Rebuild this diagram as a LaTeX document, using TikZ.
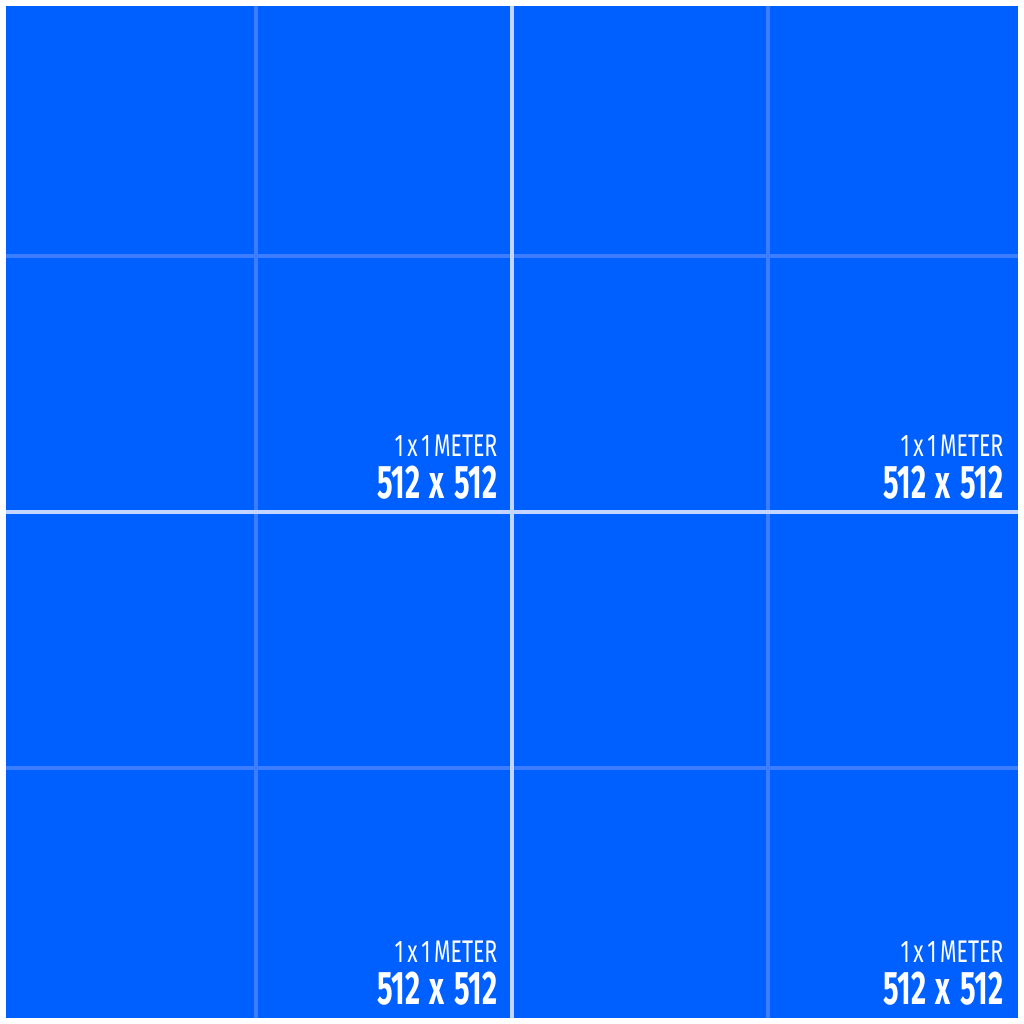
\documentclass[tikz,border=0pt]{standalone}
\usepackage{fontspec}
\setmainfont{Fira Sans}
\usetikzlibrary{positioning}
\definecolor{tileblue}{HTML}{005FFF}
\definecolor{majorline}{HTML}{C4D6FF}
\definecolor{minorline}{HTML}{3C7EFF}

\begin{document}
\begin{tikzpicture}[x=0.01cm, y=-0.01cm,
    minor/.style={draw=minorline, line width=0.9pt},
    major/.style={draw=majorline, line width=0.9pt},
    pixlabel/.style={text=white, inner sep=0pt, font=\fontsize{13.4}{14}\selectfont\bfseries},
    meterlabel/.style={text=white, inner sep=0pt, font=\fontsize{8.9}{9}\selectfont\mdseries}]
      \useasboundingbox (0,0) rectangle (1024,1024);
      \fill[white] (0,0) rectangle (1024,1024);
      \fill[tileblue] (6,6) rectangle (1018,1018);

      % grid
      \foreach \p in {256,768} {
        \draw[minor] (\p,6) -- (\p,1018);
        \draw[minor] (6,\p) -- (1018,\p);
      }
      \draw[major] (512,6) -- (512,1018);
      \draw[major] (6,512) -- (1018,512);

      % tile labels
      \foreach \i in {0,1} {
        \foreach \j in {0,1} {
          \node[pixlabel, anchor=base east] (px\i\j) at (498+506*\i, 498+506*\j)
            {\scalebox{0.62}[1]{512\,\,x\,\,512}};
          \node[meterlabel, above left=2.2pt and 0pt of px\i\j.north east] (mt\i\j)
            {\scalebox{0.68}[1]{1\,x\,1\,METER}};
        }
      }
    \end{tikzpicture}
\end{document}
